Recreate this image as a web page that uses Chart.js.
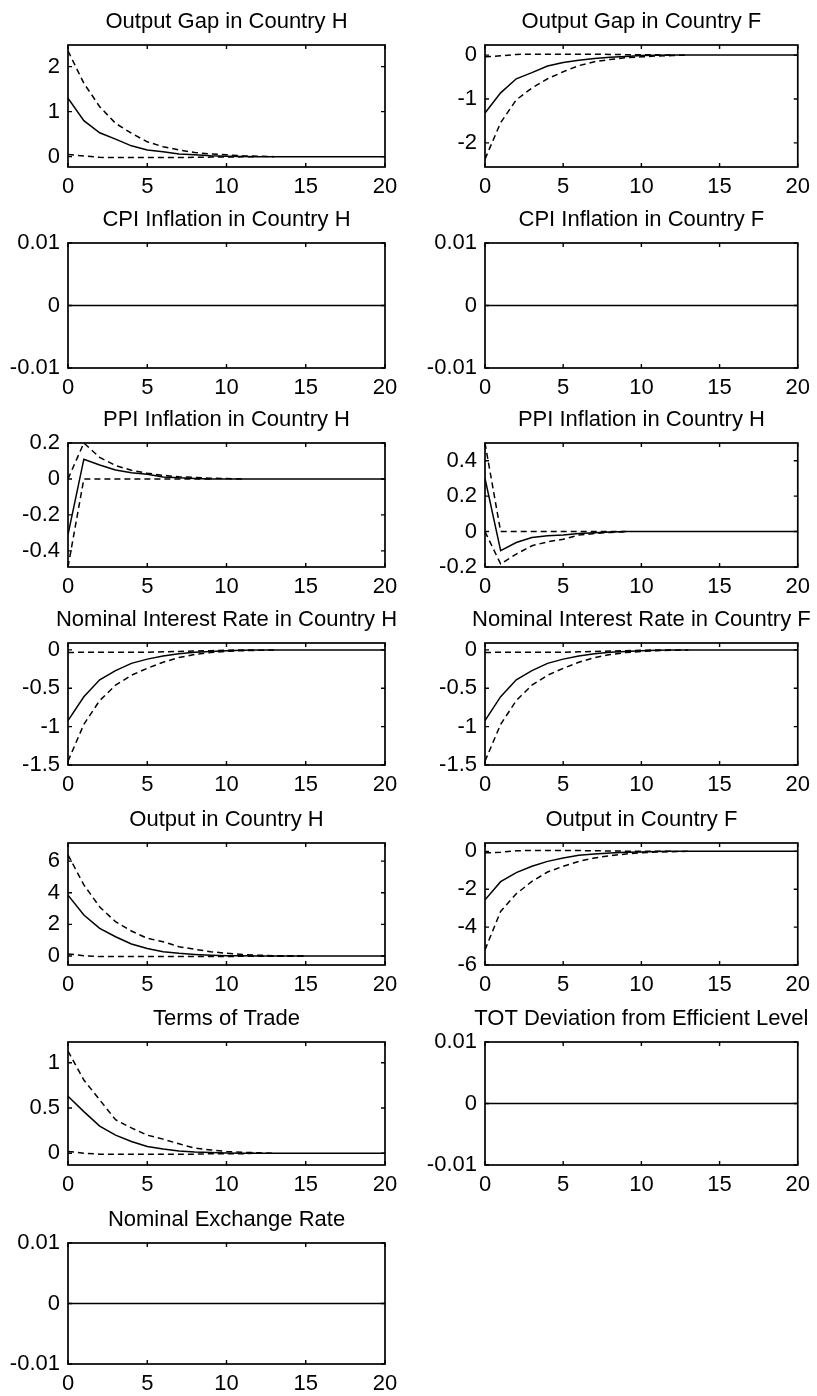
<!DOCTYPE html>
<html><head><meta charset="utf-8">
<script src="https://cdn.jsdelivr.net/npm/chart.js@4.4.0/dist/chart.umd.min.js"></script>
<style>
html,body{margin:0;padding:0;background:#fff;}
#wrap{position:relative;width:817px;height:1396px;overflow:hidden;background:#fff;}
#wrap canvas{position:absolute;}
</style></head>
<body><div id="wrap"></div>
<script>
// ---------- data ----------
const periods = [0,1,2,3,4,5,6,7,8,9,10,11,12,13,14,15,16,17,18,19,20];
const xTickValues = [0,5,10,15,20];

const ogH_mid = [1.30,0.80,0.53,0.39,0.24,0.15,0.11,0.06,0.04,0.02,0.01,0.005,0,0,0,0,0,0,0,0,0];
const ogH_up  = [2.35,1.63,1.11,0.74,0.52,0.33,0.22,0.15,0.09,0.06,0.04,0.02,0.01,0,0,0,0,0,0,0,0];
const ogH_lo  = [0.05,0.015,-0.015,-0.02,-0.02,-0.02,-0.02,-0.02,-0.015,-0.01,-0.01,-0.005,0,0,0,0,0,0,0,0,0];

const ogF_mid = [-1.32,-0.86,-0.54,-0.40,-0.25,-0.17,-0.12,-0.08,-0.05,-0.03,-0.01,-0.005,0,0,0,0,0,0,0,0,0];
const ogF_up  = [-0.04,-0.015,0.015,0.02,0.02,0.02,0.02,0.02,0.015,0.01,0.01,0.005,0,0,0,0,0,0,0,0,0];
const ogF_lo  = [-2.37,-1.54,-1.02,-0.75,-0.54,-0.38,-0.24,-0.15,-0.10,-0.06,-0.04,-0.02,-0.01,0,0,0,0,0,0,0,0];

const zeroSeries = [0,0,0,0,0,0,0,0,0,0,0,0,0,0,0,0,0,0,0,0,0];

const ppiH_mid = [-0.31,0.11,0.078,0.05,0.035,0.026,0.011,0.006,0.003,0,0,0,0,0,0,0,0,0,0,0,0];
const ppiH_up  = [0.0,0.2,0.12,0.075,0.048,0.032,0.02,0.012,0.008,0.004,0.002,0,0,0,0,0,0,0,0,0,0];
const ppiH_lo  = [-0.49,0,0,0,0,0,0,0,0,0,0,0,0,0,0,0,0,0,0,0,0];

const ppiF_mid = [0.30,-0.108,-0.062,-0.034,-0.024,-0.02,-0.011,-0.006,-0.003,0,0,0,0,0,0,0,0,0,0,0,0];
const ppiF_up  = [0.5,0,0,0,0,0,0,0,0,0,0,0,0,0,0,0,0,0,0,0,0];
const ppiF_lo  = [0.0,-0.183,-0.127,-0.08,-0.058,-0.043,-0.02,-0.011,-0.005,0,0,0,0,0,0,0,0,0,0,0,0];

const nirH_mid = [-0.92,-0.61,-0.39,-0.27,-0.175,-0.12,-0.08,-0.05,-0.03,-0.02,-0.01,-0.005,0,0,0,0,0,0,0,0,0];
const nirH_up  = [-0.035,-0.03,-0.03,-0.03,-0.03,-0.03,-0.025,-0.02,-0.015,-0.01,-0.005,0,0,0,0,0,0,0,0,0,0];
const nirH_lo  = [-1.45,-0.97,-0.66,-0.46,-0.33,-0.24,-0.16,-0.10,-0.06,-0.035,-0.02,-0.01,-0.005,0,0,0,0,0,0,0,0];

const nirF_mid = [-0.92,-0.61,-0.39,-0.27,-0.175,-0.12,-0.08,-0.05,-0.03,-0.02,-0.01,-0.005,0,0,0,0,0,0,0,0,0];
const nirF_up  = [-0.035,-0.03,-0.03,-0.03,-0.03,-0.03,-0.025,-0.02,-0.015,-0.01,-0.005,0,0,0,0,0,0,0,0,0,0];
const nirF_lo  = [-1.45,-0.97,-0.66,-0.46,-0.33,-0.24,-0.16,-0.10,-0.06,-0.035,-0.02,-0.01,-0.005,0,0,0,0,0,0,0,0];

const outH_mid = [3.85,2.59,1.75,1.22,0.76,0.48,0.27,0.17,0.10,0.05,0.02,0.01,0,0,0,0,0,0,0,0,0];
const outH_up  = [6.4,4.5,3.1,2.17,1.58,1.12,0.9,0.59,0.42,0.27,0.17,0.10,0.05,0.02,0.01,0,0,0,0,0,0];
const outH_lo  = [0.13,0.02,-0.04,-0.04,-0.04,-0.04,-0.04,-0.04,-0.04,-0.03,-0.03,-0.02,-0.02,-0.01,-0.01,0,0,0,0,0,0];

const outF_mid = [-2.56,-1.6,-1.12,-0.79,-0.53,-0.35,-0.21,-0.14,-0.09,-0.05,-0.03,-0.01,0,0,0,0,0,0,0,0,0];
const outF_up  = [-0.08,-0.05,0.03,0.05,0.05,0.05,0.04,0.03,0.02,0.01,0.01,0,0,0,0,0,0,0,0,0,0];
const outF_lo  = [-5.2,-3.17,-2.24,-1.59,-1.09,-0.79,-0.53,-0.35,-0.23,-0.14,-0.08,-0.04,-0.02,0,0,0,0,0,0,0,0];

const tot_mid = [0.63,0.46,0.30,0.20,0.13,0.074,0.048,0.026,0.015,0.008,0.004,0,0,0,0,0,0,0,0,0,0];
const tot_up  = [1.13,0.81,0.59,0.37,0.28,0.20,0.156,0.104,0.056,0.037,0.02,0.01,0.005,0,0,0,0,0,0,0,0];
const tot_lo  = [0.02,0.0,-0.01,-0.01,-0.01,-0.01,-0.01,-0.01,-0.01,-0.005,-0.005,-0.005,0,0,0,0,0,0,0,0,0];

// tick labels for y axes
const ticksOgH = [0,1,2];
const ticksOgF = [-2,-1,0];
const ticksSmall = [-0.01,0,0.01];
const ticksPpiH = [-0.4,-0.2,0,0.2];
const ticksPpiF = [-0.2,0,0.2,0.4];
const ticksNir = [-1.5,-1,-0.5,0];
const ticksOutH = [0,2,4,6];
const ticksOutF = [-6,-4,-2,0];
const ticksTot = [0,0.5,1];

const titles = [
  "Output Gap in Country H","Output Gap in Country F",
  "CPI Inflation in Country H","CPI Inflation in Country F",
  "PPI Inflation in Country H","PPI Inflation in Country H",
  "Nominal Interest Rate in Country H","Nominal Interest Rate in Country F",
  "Output in Country H","Output in Country F",
  "Terms of Trade","TOT Deviation from Efficient Level",
  "Nominal Exchange Rate"
];

// ---------- panel table (built from the arrays above) ----------
const panels = [
  {t:0,  row:0,col:0, mid:ogH_mid, up:ogH_up, lo:ogH_lo, yMin:-0.23, yMax:2.48, yt:ticksOgH},
  {t:1,  row:0,col:1, mid:ogF_mid, up:ogF_up, lo:ogF_lo, yMin:-2.55, yMax:0.23, yt:ticksOgF},
  {t:2,  row:1,col:0, mid:zeroSeries, up:zeroSeries, lo:zeroSeries, yMin:-0.01, yMax:0.01, yt:ticksSmall},
  {t:3,  row:1,col:1, mid:zeroSeries, up:zeroSeries, lo:zeroSeries, yMin:-0.01, yMax:0.01, yt:ticksSmall},
  {t:4,  row:2,col:0, mid:ppiH_mid, up:ppiH_up, lo:ppiH_lo, yMin:-0.49, yMax:0.2, yt:ticksPpiH},
  {t:5,  row:2,col:1, mid:ppiF_mid, up:ppiF_up, lo:ppiF_lo, yMin:-0.2, yMax:0.5, yt:ticksPpiF},
  {t:6,  row:3,col:0, mid:nirH_mid, up:nirH_up, lo:nirH_lo, yMin:-1.5, yMax:0.09, yt:ticksNir},
  {t:7,  row:3,col:1, mid:nirF_mid, up:nirF_up, lo:nirF_lo, yMin:-1.5, yMax:0.09, yt:ticksNir},
  {t:8,  row:4,col:0, mid:outH_mid, up:outH_up, lo:outH_lo, yMin:-0.57, yMax:7.15, yt:ticksOutH},
  {t:9,  row:4,col:1, mid:outF_mid, up:outF_up, lo:outF_lo, yMin:-6, yMax:0.44, yt:ticksOutF},
  {t:10, row:5,col:0, mid:tot_mid, up:tot_up, lo:tot_lo, yMin:-0.13, yMax:1.23, yt:ticksTot},
  {t:11, row:5,col:1, mid:zeroSeries, up:zeroSeries, lo:zeroSeries, yMin:-0.01, yMax:0.01, yt:ticksSmall},
  {t:12, row:6,col:0, mid:zeroSeries, up:zeroSeries, lo:zeroSeries, yMin:-0.01, yMax:0.01, yt:ticksSmall}
];

// ---------- layout ----------
const rowTop = [45,243,443,643,843,1042,1243];
const rowBottom = [167,368,567,765,965,1165,1364];
const colCanvasLeft = [0,408];
const colCanvasWidth = [408,409];
const colPlotLeft = [68,485];
const colPlotRight = [385,804];
const TITLE_SPACE = 45;
const XAXIS_H = 36;
const FONT_FAMILY = '"Liberation Sans", Arial, Helvetica, sans-serif';

const boxPlugin = {
  id: 'matlabBox',
  afterDraw(chart, args, opts) {
    const ctx = chart.ctx, ca = chart.chartArea;
    const xs = chart.scales.x, ys = chart.scales.y;
    ctx.save();
    ctx.strokeStyle = '#000';
    ctx.lineWidth = 1.7;
    ctx.strokeRect(ca.left, ca.top, ca.right - ca.left, ca.bottom - ca.top);
    ctx.lineWidth = 1.4;
    ctx.beginPath();
    const L = 4;
    xs.ticks.forEach(tk => {
      const px = xs.getPixelForValue(tk.value);
      ctx.moveTo(px, ca.bottom); ctx.lineTo(px, ca.bottom - L);
      ctx.moveTo(px, ca.top); ctx.lineTo(px, ca.top + L);
    });
    ys.ticks.forEach(tk => {
      const py = ys.getPixelForValue(tk.value);
      ctx.moveTo(ca.left, py); ctx.lineTo(ca.left + L, py);
      ctx.moveTo(ca.right, py); ctx.lineTo(ca.right - L, py);
    });
    ctx.stroke();
    // title
    ctx.fillStyle = '#000';
    ctx.font = '22px ' + FONT_FAMILY;
    ctx.textAlign = 'center';
    ctx.textBaseline = 'alphabetic';
    ctx.fillText(opts.text, (ca.left + ca.right) / 2, ca.top - 17);
    ctx.restore();
  }
};

const wrap = document.getElementById('wrap');
const toPts = arr => periods.map((p, i) => ({x: p, y: arr[i]}));

panels.forEach(p => {
  const cl = colCanvasLeft[p.col], cw = colCanvasWidth[p.col];
  const top = rowTop[p.row] - TITLE_SPACE;
  const plotH = rowBottom[p.row] - rowTop[p.row];
  const ch = TITLE_SPACE + plotH + XAXIS_H;
  const cv = document.createElement('canvas');
  cv.width = cw; cv.height = ch;
  cv.style.left = cl + 'px'; cv.style.top = top + 'px';
  cv.style.width = cw + 'px'; cv.style.height = ch + 'px';
  wrap.appendChild(cv);

  const yW = colPlotLeft[p.col] - cl;
  const padR = cl + cw - colPlotRight[p.col];
  const tickFont = {family: FONT_FAMILY, size: 22};

  const ds = (arr, dashed) => ({
    data: toPts(arr),
    borderColor: '#000',
    borderWidth: 1.5,
    borderDash: dashed ? [6, 4] : [],
    pointRadius: 0,
    tension: 0,
    fill: false,
    // a dashed band segment that lies exactly on the solid line is hidden under it
    segment: dashed ? {
      borderColor: c => (arr[c.p0DataIndex] === p.mid[c.p0DataIndex] &&
                         arr[c.p1DataIndex] === p.mid[c.p1DataIndex]) ? 'rgba(0,0,0,0)' : undefined
    } : undefined
  });

  new Chart(cv, {
    type: 'line',
    data: { datasets: [ds(p.mid, false), ds(p.up, true), ds(p.lo, true)] },
    options: {
      responsive: false,
      animation: false,
      devicePixelRatio: 1,
      layout: { padding: { top: TITLE_SPACE, left: 0, right: padR, bottom: 0 } },
      plugins: { legend: {display: false}, tooltip: {enabled: false}, title: {display: false},
                 matlabBox: { text: titles[p.t] } },
      scales: {
        x: {
          type: 'linear', min: 0, max: 20,
          grid: { display: false, drawTicks: false },
          border: { display: false },
          afterBuildTicks: s => { s.ticks = xTickValues.map(v => ({value: v})); },
          afterFit: s => { s.height = XAXIS_H; },
          ticks: { color: '#000', font: tickFont, padding: 7, autoSkip: false, maxRotation: 0,
                   callback: v => String(v) }
        },
        y: {
          type: 'linear', min: p.yMin, max: p.yMax,
          grid: { display: false, drawTicks: false },
          border: { display: false },
          afterBuildTicks: s => { s.ticks = p.yt.map(v => ({value: v})); },
          afterFit: s => { s.width = yW; },
          ticks: { color: '#000', font: tickFont, padding: 8, autoSkip: false,
                   callback: v => String(v) }
        }
      }
    },
    plugins: [boxPlugin]
  });
});
</script>
</body></html>
